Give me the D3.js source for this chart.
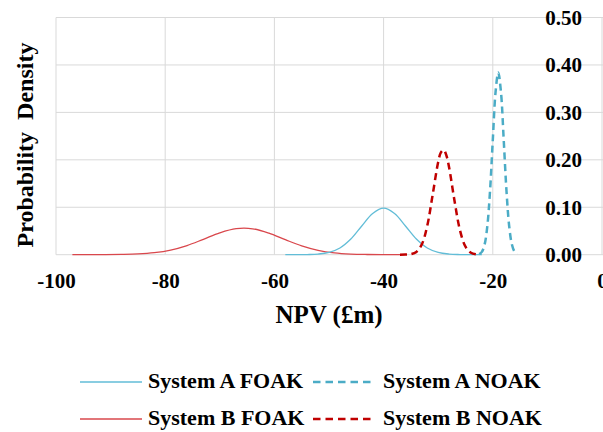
<!DOCTYPE html>
<html>
<head>
<meta charset="utf-8">
<script src="https://cdn.jsdelivr.net/npm/d3@7"></script>
<style>
  html, body { margin: 0; padding: 0; background: #fff; }
  svg { display: block; }
  text { font-family: "Liberation Serif", "Tinos", "Times New Roman", "Nimbus Roman", "DejaVu Serif", serif; font-weight: bold; fill: #000; }
</style>
</head>
<body>
<svg id="chart" width="603" height="432"></svg>
<script>
// ---- Data ----
const xTicks = [-100, -80, -60, -40, -20, 0];
const yTicks = [0, 0.1, 0.2, 0.3, 0.4, 0.5];

const aFoakX = [-58, -56, -54, -52, -50, -48, -46, -44, -42, -40, -38, -36, -34, -32, -30, -28, -26, -24, -22];
const aFoakY = [0.0000, 0.0000, 0.0003, 0.0013, 0.0048, 0.0142, 0.0330, 0.0605, 0.0868, 0.0980, 0.0868, 0.0605, 0.0330, 0.0142, 0.0048, 0.0013, 0.0003, 0.0000, 0.0000];

const aNoakX = [-22.5, -22, -21.5, -21, -20.5, -20, -19.5, -19, -18.5, -18, -17.5, -17, -16.5, -16, -15.5];
const aNoakY = [0.0013, 0.0060, 0.0214, 0.0604, 0.1357, 0.2418, 0.3420, 0.3840, 0.3420, 0.2418, 0.1357, 0.0604, 0.0214, 0.0060, 0.0013];

const bFoakX = [-97, -94, -91, -88, -85, -82, -79, -76, -73, -70, -67, -64, -61, -58, -55, -52, -49, -46, -43, -40, -37];
const bFoakY = [0.0000, 0.0001, 0.0002, 0.0006, 0.0016, 0.0043, 0.0098, 0.0193, 0.0325, 0.0460, 0.0548, 0.0546, 0.0454, 0.0316, 0.0186, 0.0092, 0.0038, 0.0013, 0.0004, 0.0001, 0.0000];

const bNoakX = [-37, -36, -35, -34, -33, -32, -31, -30, -29.5, -29, -28.5, -28, -27, -26, -25, -24, -23, -22.5];
const bNoakY = [0.0000, 0.0002, 0.0011, 0.0057, 0.0217, 0.0613, 0.1274, 0.1954, 0.2157, 0.2207, 0.2092, 0.1837, 0.1128, 0.0510, 0.0170, 0.0042, 0.0008, 0.0003];

const seriesNames = ["System A FOAK", "System A NOAK", "System B FOAK", "System B NOAK"];
const seriesColors = ["#62bdd7", "#4bacc6", "#d9474c", "#c00000"];

// ---- Chart ----
const FONT = '"Liberation Serif", "Tinos", "Times New Roman", "Nimbus Roman", "DejaVu Serif", serif';
const svg = d3.select("#chart");
const x = d3.scaleLinear().domain([-100, 0]).range([56, 602]);
const y = d3.scaleLinear().domain([0, 0.5]).range([254.7, 17.5]);

// gridlines
const grid = svg.append("g");
grid.selectAll("line.h").data(yTicks).enter().append("line")
  .attr("x1", x(-100)).attr("x2", 603)
  .attr("y1", d => y(d)).attr("y2", d => y(d))
  .attr("stroke", "#d9d9d9").attr("stroke-width", 1);
grid.selectAll("line.v").data(xTicks).enter().append("line")
  .attr("x1", d => x(d)).attr("x2", d => x(d))
  .attr("y1", y(0.5)).attr("y2", y(0))
  .attr("stroke", "#d9d9d9").attr("stroke-width", 1);

// x axis labels
const xAxis = d3.axisBottom(x).tickValues(xTicks).tickFormat(d3.format("d")).tickSize(0).tickPadding(0);
const gx = svg.append("g").attr("transform", `translate(0,${y(0)})`).call(xAxis);
gx.attr("font-family", null).attr("font-size", null);
gx.select(".domain").remove();
gx.selectAll("text")
  .attr("y", 33).attr("dy", 0)
  .style("font-size", "21px")
  .style("font-family", FONT)
  .style("font-weight", "bold")
  .attr("fill", "#000")
  .text(d => d < 0 ? "-" + Math.abs(d) : String(d));

// y axis labels (drawn inside the plot, on the right)
const yAxis = d3.axisRight(y).tickValues(yTicks).tickFormat(d3.format(".2f")).tickSize(0).tickPadding(0);
const gy = svg.append("g").attr("transform", `translate(582,0)`).call(yAxis);
gy.attr("font-family", null).attr("font-size", null);
gy.select(".domain").remove();
gy.selectAll("text")
  .attr("x", 0).attr("dy", "0.33em")
  .attr("text-anchor", "end")
  .style("font-size", "21px")
  .style("font-family", FONT)
  .style("font-weight", "bold")
  .attr("fill", "#000");

// series
const seriesX = [aFoakX, aNoakX, bFoakX, bNoakX];
const seriesY = [aFoakY, aNoakY, bFoakY, bNoakY];
const dashed = [false, true, false, true];
const line = d3.line().x(d => x(d[0])).y(d => y(d[1])).curve(d3.curveCatmullRom.alpha(0.5));
const order = [2, 0, 3, 1];
order.forEach(i => {
  const pts = seriesX[i].map((v, j) => [v, seriesY[i][j]]);
  svg.append("path").datum(pts)
    .attr("d", line)
    .attr("fill", "none")
    .attr("stroke", seriesColors[i])
    .attr("stroke-width", dashed[i] ? 2.5 : 1.3)
    .attr("stroke-dasharray", dashed[i] ? "7,4.5" : null);
});

// axis titles
svg.append("text")
  .attr("x", 329).attr("y", 323)
  .attr("text-anchor", "middle")
  .style("font-size", "25px")
  .text("NPV (£m)");

svg.append("text")
  .attr("transform", "translate(33,145) rotate(-90)")
  .attr("text-anchor", "middle")
  .style("font-size", "24px")
  .style("word-spacing", "6px")
  .text("Probability Density");

// legend
const legendPos = [[80, 382], [313, 382], [80, 419], [313, 419]];
seriesNames.forEach((name, i) => {
  const [lx, ly] = legendPos[i];
  svg.append("line")
    .attr("x1", lx).attr("x2", lx + 62)
    .attr("y1", ly).attr("y2", ly)
    .attr("stroke", seriesColors[i])
    .attr("stroke-width", dashed[i] ? 2.5 : 1.6)
    .attr("stroke-dasharray", dashed[i] ? "7.5,5" : null);
  svg.append("text")
    .attr("x", lx + 68 + (dashed[i] ? 2 : 0)).attr("y", ly + 6)
    .style("font-size", "22px")
    .text(name);
});
</script>
</body>
</html>
